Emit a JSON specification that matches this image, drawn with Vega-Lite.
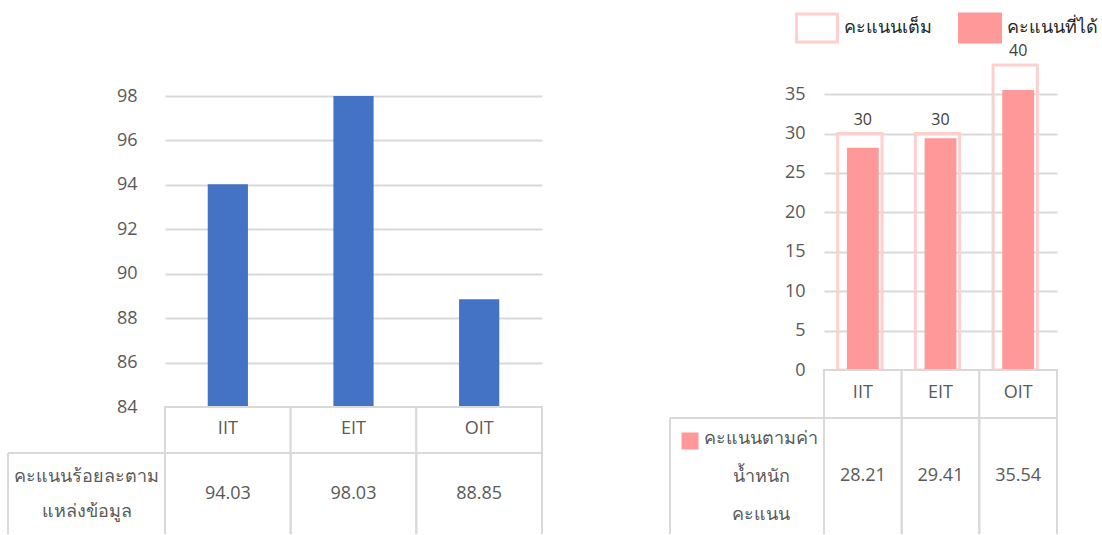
{
  "$schema": "https://vega.github.io/schema/vega-lite/v6.json",
  "padding": {"left": 7, "top": 0, "right": 0, "bottom": 0},
  "autosize": {"type": "pad"},
  "background": "white",
  "config": {
    "view": {"stroke": null},
    "font": "Open Sans",
    "axis": {"labelFont": "Open Sans", "labelColor": "#595959", "labelFontSize": 18, "gridColor": "#d9d9d9", "gridWidth": 2},
    "text": {"font": "Open Sans"},
    "rule": {"color": "#d9d9d9", "strokeWidth": 2},
    "legend": {"labelFont": "Open Sans"}
  },
  "datasets": {
    "left": [
      {"cat": "IIT", "v": 94.03},
      {"cat": "EIT", "v": 98.03},
      {"cat": "OIT", "v": 88.85}
    ],
    "right": [
      {"cat": "IIT", "s": "คะแนนเต็ม", "v": 30},
      {"cat": "EIT", "s": "คะแนนเต็ม", "v": 30},
      {"cat": "OIT", "s": "คะแนนเต็ม", "v": 40},
      {"cat": "IIT", "s": "คะแนนที่ได้", "v": 28.21},
      {"cat": "EIT", "s": "คะแนนที่ได้", "v": 29.41},
      {"cat": "OIT", "s": "คะแนนที่ได้", "v": 35.54}
    ],
    "leftLabel": [{"k": "a", "label": ["คะแนนร้อยละตาม", "แหล่งข้อมูล"]}],
    "rightLabel": [{"k": "a", "label": ["คะแนนตามค่า", "น้ำหนัก", "คะแนน"]}],
    "none": []
  },
  "spacing": 126,
  "bounds": "full",
  "hconcat": [
    {
      "columns": 2,
      "spacing": 0,
      "bounds": "flush",
      "concat": [
        {"width": 157, "height": 96, "data": {"name": "none"}, "mark": "text", "view": {"fill": "white", "stroke": null}},
        {"width": 377, "height": 96, "data": {"name": "none"}, "mark": "text", "view": {"fill": "white", "stroke": null}},
        {"width": 157, "height": 311, "data": {"name": "none"}, "mark": "text"},
        {
          "width": 377, "height": 311,
          "data": {"name": "left"},
          "mark": {"type": "bar", "color": "#4472c4", "clip": true},
          "encoding": {
            "x": {"field": "cat", "type": "nominal", "sort": null, "scale": {"paddingInner": 0.68, "paddingOuter": 0.34}, "axis": null},
            "y": {"field": "v", "type": "quantitative", "scale": {"domain": [84, 98], "zero": false, "nice": false},
              "axis": {"values": [84, 86, 88, 90, 92, 94, 96, 98], "title": null, "domain": false, "ticks": false, "labelPadding": 28}}
          }
        },
        {"width": 157, "height": 46, "data": {"name": "none"}, "mark": "text"},
        {
          "width": 377, "height": 46,
          "data": {"name": "left"},
          "encoding": {
            "x": {"field": "cat", "type": "nominal", "sort": null, "scale": {"paddingInner": 0, "paddingOuter": 0}, "axis": null}
          },
          "layer": [
            {"mark": {"type": "rect", "fill": "white", "stroke": "#d9d9d9", "strokeWidth": 2}},
            {"mark": {"type": "text", "fontSize": 18, "color": "#595959", "dy": -1}, "encoding": {"text": {"field": "cat"}}}
          ]
        },
        {
          "width": 157, "height": 81,
          "data": {"name": "leftLabel"},
          "layer": [
            {"mark": {"type": "rule"}, "encoding": {"x": {"field": "k", "type": "nominal", "bandPosition": 0, "scale": {"paddingInner": 0, "paddingOuter": 0}, "axis": null}}},
            {"mark": {"type": "rule"}, "encoding": {"y": {"field": "k", "type": "nominal", "bandPosition": 0, "scale": {"paddingInner": 0, "paddingOuter": 0}, "axis": null}}},
            {"mark": {"type": "text", "fontSize": 18, "color": "#595959", "lineHeight": 35, "dy": -17}, "encoding": {"text": {"field": "label"}}}
          ]
        },
        {
          "width": 377, "height": 81,
          "data": {"name": "left"},
          "layer": [
            {"mark": {"type": "rule"}, "encoding": {"x": {"field": "cat", "type": "nominal", "sort": null, "bandPosition": 0, "scale": {"paddingInner": 0, "paddingOuter": 0}, "axis": null}}},
            {"mark": {"type": "rule"}, "encoding": {"x": {"field": "cat", "type": "nominal", "sort": null, "bandPosition": 1, "scale": {"paddingInner": 0, "paddingOuter": 0}, "axis": null}}},
            {"mark": {"type": "text", "fontSize": 18, "color": "#595959"}, "encoding": {"x": {"field": "cat", "type": "nominal", "sort": null, "axis": null}, "text": {"field": "v", "format": ".2f"}}}
          ]
        }
      ]
    },
    {
      "columns": 2,
      "spacing": 0,
      "bounds": "flush",
      "concat": [
        {"width": 154, "height": 65, "data": {"name": "none"}, "mark": "text", "view": {"fill": "white", "stroke": null}},
        {"width": 233, "height": 65, "data": {"name": "none"}, "mark": "text", "view": {"fill": "white", "stroke": null}},
        {"width": 154, "height": 305, "data": {"name": "none"}, "mark": "text"},
        {
          "width": 233, "height": 305,
          "data": {"name": "right"},
          "encoding": {
            "x": {"field": "cat", "type": "nominal", "sort": null, "scale": {"paddingInner": 0, "paddingOuter": 0}, "axis": null},
            "y": {"field": "v", "type": "quantitative", "scale": {"domain": [0, 38.7], "nice": false, "clamp": true},
              "axis": {"values": [0, 5, 10, 15, 20, 25, 30, 35], "title": null, "domain": false, "ticks": false, "labelPadding": 19}},
            "fill": {"field": "s", "type": "nominal", "scale": {"domain": ["คะแนนเต็ม", "คะแนนที่ได้"], "range": ["transparent", "#ff9999"]},
              "legend": {"title": null, "orient": "none", "legendX": 787, "legendY": 6, "direction": "horizontal",
                "symbolType": "M-1,-0.68H1V0.68H-1Z", "symbolSize": 1681, "symbolStrokeWidth": 3,
                "labelFontSize": 18, "labelColor": "#262626", "labelOffset": 5, "columnPadding": 21}},
            "stroke": {"field": "s", "type": "nominal", "scale": {"domain": ["คะแนนเต็ม", "คะแนนที่ได้"], "range": ["#ffcfcf", "#ff9999"]}, "legend": null}
          },
          "layer": [
            {"transform": [{"filter": "datum.s === 'คะแนนเต็ม'"}], "mark": {"type": "bar", "width": {"band": 0.57}, "strokeWidth": 3, "xOffset": -3}},
            {"transform": [{"filter": "datum.s === 'คะแนนที่ได้'"}], "mark": {"type": "bar", "width": {"band": 0.41}, "strokeWidth": 0}},
            {"transform": [{"filter": "datum.s === 'คะแนนเต็ม'"}], "mark": {"type": "text", "fontSize": 16, "color": "#404040", "baseline": "bottom", "dy": -6},
              "encoding": {"text": {"field": "v"}, "fill": {"value": "#404040"}, "stroke": {"value": null}}}
          ]
        },
        {"width": 154, "height": 48, "data": {"name": "none"}, "mark": "text"},
        {
          "width": 233, "height": 48,
          "data": {"name": "left"},
          "encoding": {
            "x": {"field": "cat", "type": "nominal", "sort": null, "scale": {"paddingInner": 0, "paddingOuter": 0}, "axis": null}
          },
          "layer": [
            {"mark": {"type": "rect", "fill": "white", "stroke": "#d9d9d9", "strokeWidth": 2}},
            {"mark": {"type": "text", "fontSize": 18, "color": "#595959", "dy": -1}, "encoding": {"text": {"field": "cat"}}}
          ]
        },
        {
          "width": 154, "height": 116,
          "data": {"name": "rightLabel"},
          "layer": [
            {"mark": {"type": "rule"}, "encoding": {"x": {"field": "k", "type": "nominal", "bandPosition": 0, "scale": {"paddingInner": 0, "paddingOuter": 0}, "axis": null}}},
            {"mark": {"type": "rule"}, "encoding": {"y": {"field": "k", "type": "nominal", "bandPosition": 0, "scale": {"paddingInner": 0, "paddingOuter": 0}, "axis": null}}},
            {"mark": {"type": "text", "fontSize": 18, "color": "#595959", "lineHeight": 38, "dx": 14, "dy": -37}, "encoding": {"text": {"field": "label"}}},
            {"mark": {"type": "point", "shape": "square", "size": 289, "filled": true, "color": "#ff9999", "opacity": 1, "xOffset": -57, "yOffset": -35}}
          ]
        },
        {
          "width": 233, "height": 116,
          "data": {"name": "right"},
          "transform": [{"filter": "datum.s === 'คะแนนที่ได้'"}],
          "layer": [
            {"mark": {"type": "rule"}, "encoding": {"x": {"field": "cat", "type": "nominal", "sort": null, "bandPosition": 0, "scale": {"paddingInner": 0, "paddingOuter": 0}, "axis": null}}},
            {"mark": {"type": "rule"}, "encoding": {"x": {"field": "cat", "type": "nominal", "sort": null, "bandPosition": 1, "scale": {"paddingInner": 0, "paddingOuter": 0}, "axis": null}}},
            {"mark": {"type": "text", "fontSize": 18, "color": "#595959"}, "encoding": {"x": {"field": "cat", "type": "nominal", "sort": null, "axis": null}, "text": {"field": "v", "format": ".2f"}}}
          ]
        }
      ]
    }
  ]
}
